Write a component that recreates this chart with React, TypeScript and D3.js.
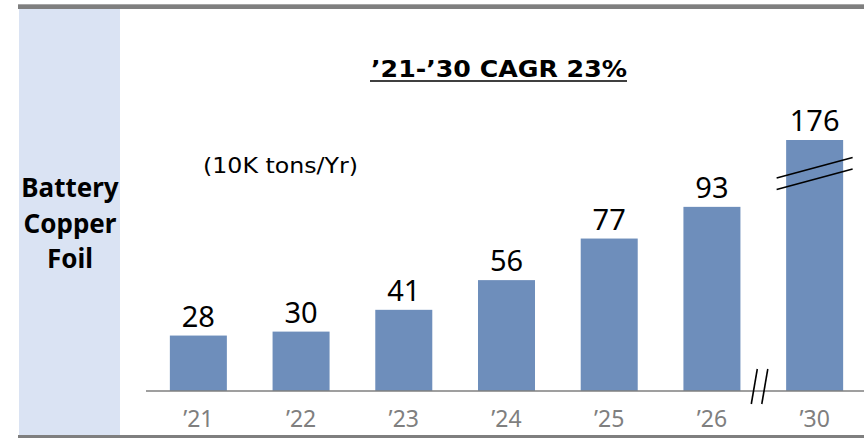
import React from "react";
import * as d3 from "d3";

const years = ["’21", "’22", "’23", "’24", "’25", "’26", "’30"];
const capacity = [28, 30, 41, 56, 77, 93, 176];
const titleText = "’21-’30 CAGR 23%";
const unitText = "(10K tons/Yr)";
const sideLabel = ["Battery", "Copper", "Foil"];

const W = 864;
const H = 438;
const FONT = "'Noto Sans', 'Open Sans', sans-serif";
const WIDE_FONT = "'DejaVu Sans', 'Noto Sans', sans-serif";
const BAR = "#6E8EBB";
const GRAY = "#7F7F7F";

export default function App() {
  const baseline = 391;
  const x = d3
    .scaleBand<string>()
    .domain(years)
    .range([147, 866])
    .paddingInner(0.445)
    .paddingOuter(0.2225);
  // Broken value axis: linear up to 100, compressed above the break
  const y = d3.scaleLinear().domain([0, 100, 176]).range([baseline, 193, 140]);

  const lastX = x(years[6])! + x.bandwidth() / 2;
  const prevX = x(years[5])! + x.bandwidth() / 2;
  const axisBreakX = (lastX + prevX) / 2;

  return (
    <div style={{ position: "fixed", left: 0, top: 0 }}>
      <svg width={W} height={H} style={{ display: "block" }}>
        <rect x={0} y={0} width={W} height={H} fill="#fff" />
        {/* top rule */}
        <rect x={18} y={4} width={W - 18} height={5} fill={GRAY} />
        <rect x={18} y={4} width={W - 18} height={1} fill="#A6A6A6" />
        {/* side panel */}
        <rect x={19} y={9} width={101} height={427} fill="#DAE3F3" />
        {/* bottom rule */}
        <rect x={18} y={435} width={W - 18} height={3} fill={GRAY} />

        {sideLabel.map((t, i) => (
          <text
            key={t}
            x={70}
            y={197 + i * 35.5}
            textAnchor="middle"
            fontFamily={FONT}
            fontWeight={700}
            fontSize={26}
            fill="#000"
          >
            {t}
          </text>
        ))}

        <text
          x={371}
          y={77}
          fontFamily={WIDE_FONT}
          fontWeight={700}
          fontSize={23.5}
          textLength={256}
          lengthAdjust="spacingAndGlyphs"
          fill="#000"
        >
          {titleText}
        </text>
        <line x1={370} x2={627} y1={81} y2={81} stroke="#000" strokeWidth={1.5} />

        <text
          x={203}
          y={173}
          fontFamily={WIDE_FONT}
          fontSize={21}
          textLength={155}
          lengthAdjust="spacingAndGlyphs"
          fill="#000"
        >
          {unitText}
        </text>

        {years.map((yr, i) => {
          const v = capacity[i];
          const bx = x(yr)!;
          const top = y(v);
          return (
            <g key={yr}>
              <rect x={bx} y={top} width={x.bandwidth()} height={baseline - top} fill={BAR} />
              <text
                x={bx + x.bandwidth() / 2}
                y={top - 9}
                textAnchor="middle"
                fontFamily={FONT}
                fontSize={29}
                fill="#000"
              >
                {v}
              </text>
              <text
                x={bx + x.bandwidth() / 2}
                y={427}
                textAnchor="middle"
                fontFamily={FONT}
                fontSize={23}
                fill={GRAY}
              >
                {yr}
              </text>
            </g>
          );
        })}

        {/* category axis */}
        <line x1={146} x2={W} y1={baseline} y2={baseline} stroke={GRAY} strokeWidth={1.6} />

        {/* break marks on the last bar */}
        {[0, 11.5].map((d) => (
          <line
            key={d}
            x1={lastX - 38}
            y1={178 + d}
            x2={lastX + 38}
            y2={157.5 + d}
            stroke="#000"
            strokeWidth={1.6}
          />
        ))}
        {/* break marks on the axis */}
        {[0, 10.5].map((d) => (
          <line
            key={d}
            x1={axisBreakX - 12 + d}
            y1={404}
            x2={axisBreakX - 6 + d}
            y2={369}
            stroke="#000"
            strokeWidth={1.6}
          />
        ))}
      </svg>
    </div>
  );
}
